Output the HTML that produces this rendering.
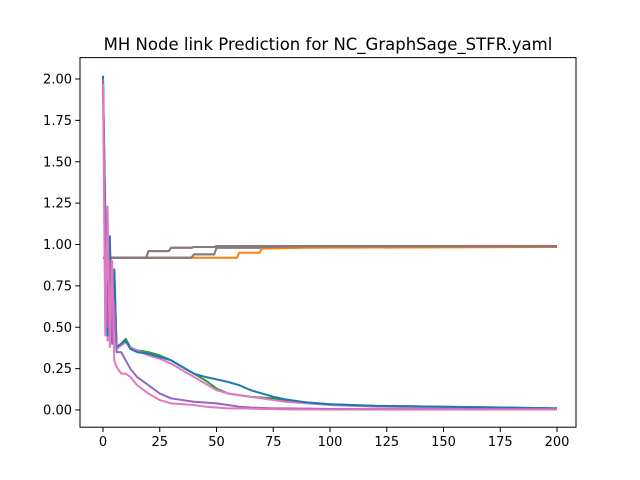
<!DOCTYPE html>
<html><head><meta charset="utf-8"><style>
body{margin:0;background:#fff}
svg{display:block;font-family:"DejaVu Sans","Liberation Sans",sans-serif}
</style></head><body>
<svg id="c" width="640" height="480">
<rect width="640" height="480" fill="#fff"/>
<text x="328" y="50" text-anchor="middle" font-size="16.5">MH Node link Prediction for NC_GraphSage_STFR.yaml</text>
<g id="plot"></g>
<rect x="80" y="57.6" width="496" height="369.6" fill="none" stroke="#000" stroke-width="1"/>
<g id="ticks"></g>
</svg>
<script>
const xTicks=[0,25,50,75,100,125,150,175,200];
const yTicks=[0,0.25,0.5,0.75,1.0,1.25,1.5,1.75,2.0];
const yTickLabels=["0.00","0.25","0.50","0.75","1.00","1.25","1.50","1.75","2.00"];
const lossX=[0,1,2,3,4,5,6,8,10,12,15,20,25,30,35,40,45,50,55,60,65,70,75,80,90,100,120,150,175,200];
const blueLoss=[2.02,1.2,0.45,1.05,0.5,0.85,0.38,0.4,0.42,0.37,0.35,0.34,0.32,0.3,0.26,0.22,0.2,0.185,0.17,0.15,0.12,0.1,0.08,0.065,0.045,0.035,0.025,0.02,0.015,0.01];
const greenLoss=[2.0,1.1,0.45,1.0,0.48,0.8,0.38,0.4,0.43,0.38,0.36,0.35,0.33,0.3,0.26,0.22,0.18,0.13,0.1,0.09,0.08,0.075,0.07,0.06,0.045,0.035,0.025,0.02,0.015,0.01];
const pinkLoss=[1.98,1.1,0.42,0.95,0.45,0.8,0.37,0.39,0.41,0.38,0.36,0.33,0.31,0.28,0.24,0.2,0.16,0.12,0.1,0.09,0.08,0.07,0.06,0.05,0.04,0.03,0.02,0.015,0.01,0.008];
const purpleLoss=[2.0,1.0,0.5,0.9,0.4,0.65,0.35,0.35,0.3,0.25,0.2,0.15,0.1,0.07,0.06,0.05,0.045,0.04,0.03,0.02,0.015,0.012,0.01,0.01,0.008,0.006,0.005,0.005,0.005,0.005];
const pink2Loss=[1.97,0.45,1.23,0.38,0.9,0.3,0.26,0.22,0.22,0.2,0.15,0.1,0.06,0.04,0.035,0.03,0.02,0.015,0.01,0.01,0.008,0.006,0.005,0.004,0.003,0.002,0.002,0.002,0.002,0.002];
const stepX=[0,19,20,29,30,39,40,49,50,59,60,69,70,90,200];
const grayUpper=[0.92,0.92,0.96,0.96,0.98,0.98,0.985,0.985,0.99,0.99,0.99,0.99,0.99,0.99,0.99];
const grayLower=[0.92,0.92,0.92,0.92,0.92,0.92,0.94,0.94,0.98,0.98,0.98,0.98,0.985,0.99,0.99];
const orangeStep=[0.92,0.92,0.92,0.92,0.92,0.92,0.92,0.92,0.92,0.92,0.95,0.95,0.975,0.98,0.985];
const X=v=>103+v*2.27, Y=v=>410-v*165.5;
const NS="http://www.w3.org/2000/svg";
const plot=document.getElementById('plot'), ticks=document.getElementById('ticks');
function line(xs,ys,color,name){
  const p=document.createElementNS(NS,'polyline');
  p.setAttribute('points',xs.map((x,i)=>X(x)+','+Y(ys[i])).join(' '));
  p.setAttribute('fill','none');p.setAttribute('stroke',color);p.setAttribute('stroke-width','2');
  p.setAttribute('stroke-linejoin','round');
  
  
  plot.appendChild(p);
}
line(stepX,orangeStep,'#ff7f0e','orange-series');
line(stepX,grayLower,'#8c564b','brown-series');
line(stepX,grayLower,'#7f7f7f','gray-lower-series');
line(stepX,grayUpper,'#d62728','red-series');
line(stepX,grayUpper,'#7f7f7f','gray-upper-series');
line(lossX,greenLoss,'#2ca02c','green-series');
line(lossX,pinkLoss,'#e377c2','pink-upper-series');
line(lossX,blueLoss,'#1f77b4','blue-series');
line(lossX,purpleLoss,'#9467bd','purple-series');
line(lossX,pink2Loss,'#e377c2','pink-lower-series');
xTicks.forEach(v=>{
  const l=document.createElementNS(NS,'line');
  l.setAttribute('x1',X(v));l.setAttribute('x2',X(v));l.setAttribute('y1',427.2);l.setAttribute('y2',432);l.setAttribute('stroke','#000');
  
  
  ticks.appendChild(l);
  const t=document.createElementNS(NS,'text');
  t.setAttribute('x',X(v));t.setAttribute('y',446);t.setAttribute('text-anchor','middle');t.setAttribute('font-size','13');
  t.textContent=v;
  
  
  ticks.appendChild(t);
});
yTicks.forEach((v,i)=>{
  const l=document.createElementNS(NS,'line');
  l.setAttribute('x1',75.2);l.setAttribute('x2',80);l.setAttribute('y1',Y(v));l.setAttribute('y2',Y(v));l.setAttribute('stroke','#000');
  
  
  ticks.appendChild(l);
  const t=document.createElementNS(NS,'text');
  t.setAttribute('x',72);t.setAttribute('y',Y(v)+4.5);t.setAttribute('text-anchor','end');t.setAttribute('font-size','13');
  t.textContent=yTickLabels[i];
  
  
  ticks.appendChild(t);
});
</script>
</body></html>
